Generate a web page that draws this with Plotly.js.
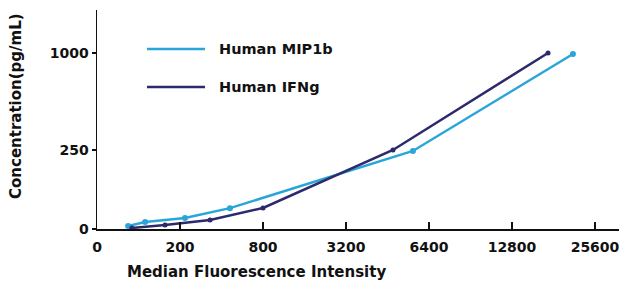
<!DOCTYPE html>
<html>
<head>
<meta charset="utf-8">
<script src="https://cdn.plot.ly/plotly-3.0.1.min.js"></script>
<style>html,body{margin:0;padding:0;background:#fff;}#chart{width:623px;height:285px;}</style>
</head>
<body>
<div id="chart"></div>
<script>
// X tick values (Median Fluorescence Intensity), evenly spaced on the axis
const xTickValues = [0, 200, 800, 3200, 6400, 12800, 25600];
const xTickLabels = ['0', '200', '800', '3200', '6400', '12800', '25600'];
// Y tick values (Concentration pg/mL) and their axis positions
const yTickValues = [0, 250, 1000];
const yTickLabels = ['0', '250', '1000'];
const yTickPos = [0, 79, 176];

// Series
const seriesNames = ['Human MIP1b', 'Human IFNg'];
const mipMFI = [75, 116, 236, 561, 5780, 22200];
const mipConc = [9.5, 22, 35, 66, 247, 992];
const ifnMFI = [84, 164, 417, 800, 5011, 18355];
const ifnConc = [3.2, 12.7, 28.5, 66.5, 250, 1000];
const colors = ['#2aa5d9', '#2c2a6c'];

function interp(v, vals, pos) {
  for (let i = 0; i < vals.length - 1; i++) {
    if (v <= vals[i + 1] || i === vals.length - 2) {
      const t = (v - vals[i]) / (vals[i + 1] - vals[i]);
      return pos[i] + t * (pos[i + 1] - pos[i]);
    }
  }
}
const xPos = xTickValues.map((_, i) => i);
const mapX = arr => arr.map(v => interp(v, xTickValues, xPos));
const mapY = arr => arr.map(v => interp(v, yTickValues, yTickPos));

const font = 'DejaVu Sans, Verdana, sans-serif';

const traces = [
  {x: mapX(mipMFI), y: mapY(mipConc), customdata: mipMFI, name: seriesNames[0], mode: 'lines+markers',
   line: {color: colors[0], width: 2.5}, marker: {color: colors[0], size: 6}},
  {x: mapX(ifnMFI), y: mapY(ifnConc), customdata: ifnMFI, name: seriesNames[1], mode: 'lines+markers',
   line: {color: colors[1], width: 2.5}, marker: {color: colors[1], size: 5}}
];

const L = 97, R = 4, T = 10, B = 56, W = 623, H = 285;
const pw = W - L - R, ph = H - T - B;
const px = x => (x - L) / pw;
const py = y => (H - B - y) / ph;

const legendRows = [49, 87];
const shapes = [], annotations = [];
seriesNames.forEach((n, i) => {
  shapes.push({type: 'line', xref: 'paper', yref: 'paper', x0: px(147), x1: px(205), y0: py(legendRows[i]), y1: py(legendRows[i]),
    line: {color: colors[i], width: 2.5}});
  annotations.push({xref: 'paper', yref: 'paper', x: px(217), y: py(legendRows[i]), xanchor: 'left', yanchor: 'middle',
    text: '<b>' + n + '</b>', showarrow: false, font: {family: font, size: 14.5, color: '#111'}});
});
annotations.push({xref: 'paper', yref: 'paper', x: px(256), y: py(272), xanchor: 'center', yanchor: 'middle',
  text: '<b>Median Fluorescence Intensity</b>', showarrow: false, font: {family: font, size: 15, color: '#111'}});
annotations.push({xref: 'paper', yref: 'paper', x: px(16), y: py(106), xanchor: 'center', yanchor: 'middle', textangle: -90,
  text: '<b>Concentration(pg/mL)</b>', showarrow: false, font: {family: font, size: 15, color: '#111'}});

const layout = {
  width: W, height: H,
  margin: {l: L, r: R, t: T, b: B, pad: 0},
  paper_bgcolor: '#fff', plot_bgcolor: '#fff',
  showlegend: false,
  xaxis: {range: [0, pw / 83], tickmode: 'array', tickvals: xPos, ticktext: xTickLabels, ticklabelstandoff: 5,
    ticks: 'inside', ticklen: 7, tickwidth: 1.5, tickcolor: '#111', showline: true, linecolor: '#111', linewidth: 1.5,
    showgrid: false, zeroline: false, tickfont: {family: font, size: 14, color: '#111', weight: 'bold'}},
  yaxis: {range: [0, ph], tickmode: 'array', tickvals: yTickPos, ticktext: yTickLabels,
    ticks: 'outside', ticklen: 4, tickwidth: 1.5, tickcolor: '#111', showline: true, linecolor: '#111', linewidth: 1.5,
    showgrid: false, zeroline: false, tickfont: {family: font, size: 14, color: '#111', weight: 'bold'}},
  shapes: shapes,
  annotations: annotations
};
Plotly.newPlot('chart', traces, layout, {displayModeBar: false, staticPlot: true});
</script>
</body>
</html>
